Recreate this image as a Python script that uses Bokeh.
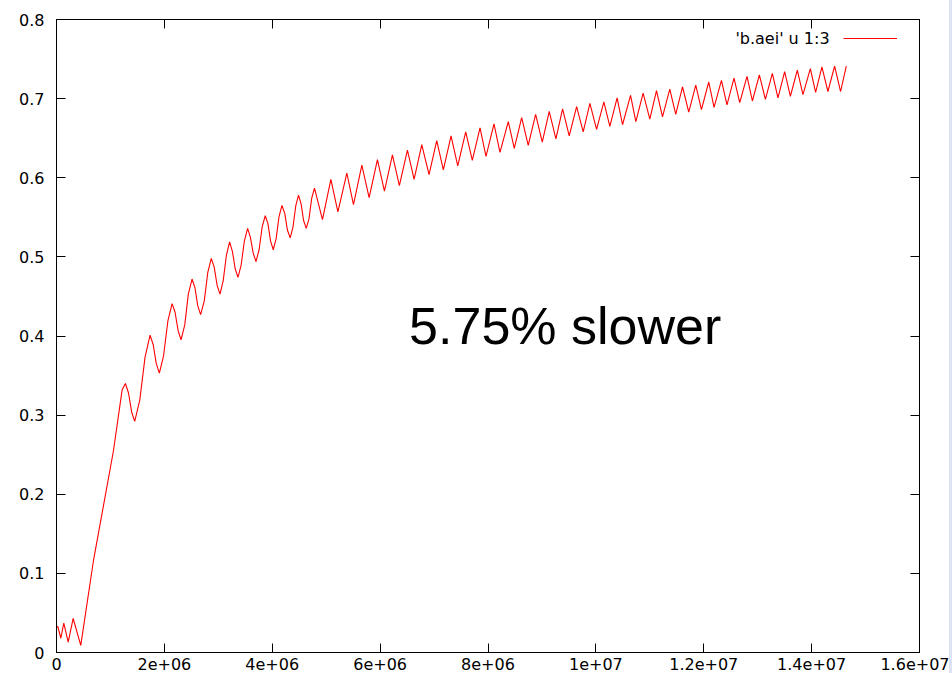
from bokeh.plotting import figure
from bokeh.models import (Range1d, FixedTicker, LinearAxis, Label, Legend,
                          LegendItem, ColumnDataSource, Div)
from bokeh.layouts import row
from bokeh.core.properties import value
from bokeh.embed import file_html
from bokeh.resources import INLINE

# ---- data (column 1 vs column 3 of b.aei) ----
x_vals = [0, 24000, 80000, 135000, 217000, 309000, 450000, 685000, 1056000,
          1217000, 1278000, 1335000, 1393000, 1450000, 1544000, 1641000,
          1735000, 1793000, 1850000, 1907000, 1985000, 2065000,
          2143000, 2198000, 2254000, 2309000, 2378000, 2444000,
          2513000, 2567000, 2619000, 2672000, 2739000, 2804000,
          2870000, 2924000, 2978000, 3031000, 3091000, 3150000,
          3209000, 3261000, 3313000, 3365000, 3424000, 3483000,
          3543000, 3594000, 3646000, 3698000, 3756000, 3813000,
          3870000, 3920000, 3969000, 4019000, 4072000, 4126000,
          4180000, 4232000, 4281000, 4333000, 4385000, 4435000,
          4487000, 4535000, 4581000, 4630000, 4681000, 4731000,
          4783000, 4931000, 5087000, 5217000,
          5383000, 5506000, 5661000, 5796000, 5950000, 6080000, 6228000, 6357000,
          6506000, 6630000, 6772000, 6907000, 7050000, 7172000, 7315000, 7439000,
          7587000, 7709000, 7852000, 7963000, 8111000, 8222000, 8376000, 8487000,
          8624000, 8746000, 8883000, 9006000, 9135000, 9259000, 9383000, 9506000,
          9643000, 9765000, 9889000, 10013000, 10148000, 10259000, 10394000, 10494000,
          10643000, 10741000, 10876000, 11000000, 11124000, 11235000, 11370000, 11481000,
          11606000, 11722000, 11852000, 11957000, 12093000, 12191000, 12328000, 12431000,
          12561000, 12667000, 12802000, 12902000, 13031000, 13143000, 13272000, 13376000,
          13500000, 13606000, 13735000, 13839000, 13976000, 14074000, 14191000, 14302000,
          14426000, 14537000, 14643000]
y_vals = [0.032, 0.033, 0.018, 0.037, 0.013, 0.043, 0.009, 0.116, 0.255,
          0.332, 0.340, 0.328, 0.304, 0.292, 0.319, 0.373,
          0.401, 0.389, 0.365, 0.353, 0.375, 0.419,
          0.441, 0.430, 0.407, 0.395, 0.414, 0.453,
          0.472, 0.461, 0.438, 0.427, 0.444, 0.480,
          0.498, 0.487, 0.464, 0.453, 0.470, 0.502,
          0.519, 0.507, 0.485, 0.474, 0.490, 0.520,
          0.536, 0.525, 0.505, 0.494, 0.509, 0.538,
          0.552, 0.542, 0.520, 0.509, 0.523, 0.551,
          0.565, 0.555, 0.534, 0.524, 0.538, 0.564,
          0.578, 0.567, 0.546, 0.536, 0.548, 0.574,
          0.587, 0.547, 0.598, 0.557,
          0.606, 0.566, 0.616, 0.575, 0.623, 0.583, 0.629, 0.590,
          0.635, 0.598, 0.642, 0.604, 0.647, 0.610, 0.653, 0.615,
          0.658, 0.622, 0.663, 0.627, 0.668, 0.632, 0.671, 0.637,
          0.676, 0.641, 0.680, 0.645, 0.684, 0.649, 0.687, 0.653,
          0.690, 0.658, 0.694, 0.661, 0.696, 0.665, 0.701, 0.667,
          0.704, 0.671, 0.707, 0.674, 0.710, 0.677, 0.712, 0.680,
          0.715, 0.683, 0.717, 0.686, 0.721, 0.689, 0.723, 0.692,
          0.726, 0.695, 0.728, 0.697, 0.730, 0.699, 0.732, 0.701,
          0.734, 0.703, 0.736, 0.705, 0.738, 0.708, 0.740, 0.709,
          0.741, 0.709, 0.741]

x_ticks = [0, 2000000, 4000000, 6000000, 8000000, 10000000, 12000000, 14000000, 16000000]
x_tick_labels = ["0", "2e+06", "4e+06", "6e+06", "8e+06", "1e+07", "1.2e+07", "1.4e+07", "1.6e+07"]
y_ticks = [0.0, 0.1, 0.2, 0.3, 0.4, 0.5, 0.6, 0.7, 0.8]
y_tick_labels = ["0", "0.1", "0.2", "0.3", "0.4", "0.5", "0.6", "0.7", "0.8"]

series_label = "'b.aei' u 1:3"
note_text = "5.75% slower"

# ---- figure ----
FONT = "DejaVu Sans"
p = figure(width=949, height=673, output_backend="svg", toolbar_location=None,
           x_range=Range1d(0, 16000000), y_range=Range1d(0, 0.8),
           min_border_left=56, min_border_right=30, min_border_top=19,
           min_border_bottom=21)
p.xgrid.visible = False
p.ygrid.visible = False
p.outline_line_color = "black"
p.outline_line_width = 1
p.background_fill_color = "white"
p.border_fill_color = "white"

def style_axis(ax, ticks, labels, show_labels):
    ax.ticker = FixedTicker(ticks=ticks)
    ax.major_tick_in = 9
    ax.major_tick_out = 0
    ax.minor_tick_line_color = None
    ax.major_tick_line_color = "black"
    ax.axis_line_color = "black"
    if show_labels:
        ax.major_label_overrides = {t: l for t, l in zip(ticks, labels)}
        ax.major_label_text_font = FONT
        ax.major_label_text_font_size = "16px"
        ax.major_label_text_color = "black"
    else:
        # mirror ticks only (gnuplot draws ticks on all four sides)
        ax.major_label_text_font_size = "8px"
        ax.major_label_text_color = None
        ax.major_label_standoff = 0

style_axis(p.xaxis[0], x_ticks, x_tick_labels, True)
style_axis(p.yaxis[0], y_ticks, y_tick_labels, True)
p.xaxis[0].major_label_standoff = 5
p.yaxis[0].major_label_standoff = 12

top_ax = LinearAxis()
style_axis(top_ax, x_ticks, x_tick_labels, False)
p.add_layout(top_ax, "above")
right_ax = LinearAxis()
style_axis(right_ax, y_ticks, y_tick_labels, False)
p.add_layout(right_ax, "right")

src = ColumnDataSource(data=dict(x=x_vals, y=y_vals))
r = p.line(x="x", y="y", source=src, line_color="#ff0000", line_width=1.1)

# legend sample (line) to the right of its text, gnuplot style
legend = Legend(items=[LegendItem(label=value(" "), renderers=[r])],
                location=(787, 606), glyph_width=54, glyph_height=16,
                label_width=0, label_standoff=0, label_height=16,
                padding=0, margin=0, spacing=0, border_line_color=None,
                background_fill_alpha=0, label_text_font_size="10px",
                label_text_color=None)
p.add_layout(legend)

p.add_layout(Label(x=14333000, y=0.776, text=series_label, text_align="right",
                   text_baseline="middle", text_font=FONT,
                   text_font_size="16px", text_color="black"))
p.add_layout(Label(x=6537000, y=0.413, text=note_text, text_align="left",
                   text_baseline="alphabetic", text_font="Liberation Sans",
                   text_font_size="52px", text_color="black"))

strip = Div(text="", width=3, height=673, margin=0,
            styles={"background-color": "#dde3f0"})
layout = row(p, strip, spacing=0)

open("out.html", "w").write(file_html(layout, INLINE))
